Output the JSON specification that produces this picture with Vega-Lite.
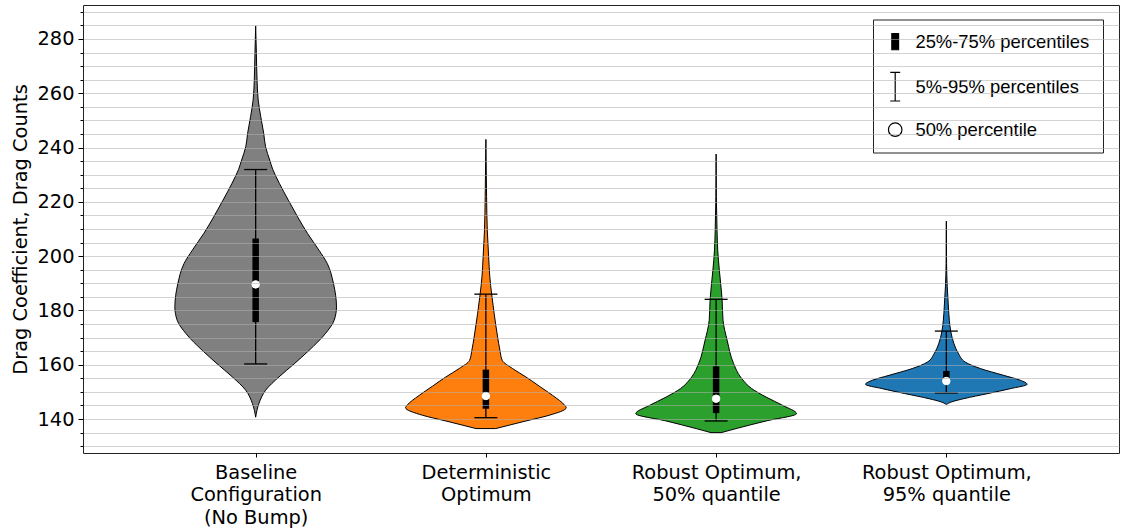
{
  "$schema": "https://vega.github.io/schema/vega-lite/v6.json",
  "width": 1036,
  "height": 448,
  "autosize": {"type": "none"},
  "padding": {"left": 83, "top": 5, "right": 2, "bottom": 75},
  "background": "white",
  "config": {
    "view": {"stroke": "#222", "strokeWidth": 1},
    "font": "DejaVu Sans",
    "legend": {
      "orient": "none",
      "legendX": 790,
      "legendY": 14.5,
      "padding": 13,
      "rowPadding": 17,
      "symbolSize": 182,
      "symbolStrokeColor": "black",
      "symbolStrokeWidth": 1,
      "symbolOpacity": 1,
      "labelFont": "Liberation Sans",
      "labelFontSize": 18.4,
      "labelColor": "black",
      "labelOffset": 11,
      "labelLimit": 400,
      "strokeColor": "#222",
      "strokeWidth": 1,
      "fillColor": "white",
      "cornerRadius": 0
    }
  },
  "datasets": {
    "violin": [
      {"g": 1, "v": 140.7, "lo": 1.0, "hi": 1.0},
      {"g": 1, "v": 145.7, "lo": 0.986, "hi": 1.014},
      {"g": 1, "v": 150.6, "lo": 0.957, "hi": 1.043},
      {"g": 1, "v": 155.5, "lo": 0.899, "hi": 1.101},
      {"g": 1, "v": 160.4, "lo": 0.832, "hi": 1.168},
      {"g": 1, "v": 165.3, "lo": 0.768, "hi": 1.232},
      {"g": 1, "v": 171.5, "lo": 0.697, "hi": 1.303},
      {"g": 1, "v": 176.4, "lo": 0.659, "hi": 1.341},
      {"g": 1, "v": 181.3, "lo": 0.649, "hi": 1.351},
      {"g": 1, "v": 189.9, "lo": 0.662, "hi": 1.338},
      {"g": 1, "v": 197.3, "lo": 0.689, "hi": 1.311},
      {"g": 1, "v": 202.2, "lo": 0.725, "hi": 1.275},
      {"g": 1, "v": 208.4, "lo": 0.775, "hi": 1.225},
      {"g": 1, "v": 214.5, "lo": 0.818, "hi": 1.182},
      {"g": 1, "v": 220.6, "lo": 0.858, "hi": 1.142},
      {"g": 1, "v": 226.8, "lo": 0.897, "hi": 1.103},
      {"g": 1, "v": 232.0, "lo": 0.926, "hi": 1.074},
      {"g": 1, "v": 235.4, "lo": 0.939, "hi": 1.061},
      {"g": 1, "v": 240.3, "lo": 0.957, "hi": 1.043},
      {"g": 1, "v": 245.2, "lo": 0.965, "hi": 1.035},
      {"g": 1, "v": 251.4, "lo": 0.978, "hi": 1.022},
      {"g": 1, "v": 257.5, "lo": 0.989, "hi": 1.011},
      {"g": 1, "v": 264.9, "lo": 0.994, "hi": 1.006},
      {"g": 1, "v": 275.1, "lo": 0.997, "hi": 1.003},
      {"g": 1, "v": 284.8, "lo": 1.0, "hi": 1.0},
      {"g": 2, "v": 136.5, "lo": 1.957, "hi": 2.043},
      {"g": 2, "v": 139.3, "lo": 1.826, "hi": 2.174},
      {"g": 2, "v": 141.4, "lo": 1.725, "hi": 2.275},
      {"g": 2, "v": 144.2, "lo": 1.651, "hi": 2.349},
      {"g": 2, "v": 145.0, "lo": 1.657, "hi": 2.343},
      {"g": 2, "v": 148.7, "lo": 1.71, "hi": 2.29},
      {"g": 2, "v": 152.1, "lo": 1.768, "hi": 2.232},
      {"g": 2, "v": 155.5, "lo": 1.826, "hi": 2.174},
      {"g": 2, "v": 158.6, "lo": 1.884, "hi": 2.116},
      {"g": 2, "v": 161.6, "lo": 1.929, "hi": 2.071},
      {"g": 2, "v": 165.3, "lo": 1.939, "hi": 2.061},
      {"g": 2, "v": 170.2, "lo": 1.949, "hi": 2.051},
      {"g": 2, "v": 178.8, "lo": 1.964, "hi": 2.036},
      {"g": 2, "v": 186.0, "lo": 1.975, "hi": 2.025},
      {"g": 2, "v": 192.4, "lo": 1.983, "hi": 2.017},
      {"g": 2, "v": 199.7, "lo": 1.988, "hi": 2.012},
      {"g": 2, "v": 209.6, "lo": 1.994, "hi": 2.006},
      {"g": 2, "v": 221.9, "lo": 1.997, "hi": 2.003},
      {"g": 2, "v": 243.0, "lo": 2.0, "hi": 2.0},
      {"g": 3, "v": 135.0, "lo": 2.978, "hi": 3.022},
      {"g": 3, "v": 136.5, "lo": 2.913, "hi": 3.087},
      {"g": 3, "v": 139.3, "lo": 2.783, "hi": 3.217},
      {"g": 3, "v": 142.0, "lo": 2.651, "hi": 3.349},
      {"g": 3, "v": 145.0, "lo": 2.71, "hi": 3.29},
      {"g": 3, "v": 148.1, "lo": 2.783, "hi": 3.217},
      {"g": 3, "v": 151.2, "lo": 2.845, "hi": 3.155},
      {"g": 3, "v": 155.5, "lo": 2.894, "hi": 3.106},
      {"g": 3, "v": 160.4, "lo": 2.924, "hi": 3.076},
      {"g": 3, "v": 169.0, "lo": 2.952, "hi": 3.048},
      {"g": 3, "v": 176.4, "lo": 2.97, "hi": 3.03},
      {"g": 3, "v": 184.1, "lo": 2.974, "hi": 3.026},
      {"g": 3, "v": 194.8, "lo": 2.986, "hi": 3.014},
      {"g": 3, "v": 202.2, "lo": 2.993, "hi": 3.007},
      {"g": 3, "v": 209.6, "lo": 2.996, "hi": 3.004},
      {"g": 3, "v": 221.9, "lo": 2.999, "hi": 3.001},
      {"g": 3, "v": 237.6, "lo": 3.0, "hi": 3.0},
      {"g": 4, "v": 145.4, "lo": 4.0, "hi": 4.0},
      {"g": 4, "v": 146.3, "lo": 3.978, "hi": 4.022},
      {"g": 4, "v": 147.5, "lo": 3.925, "hi": 4.075},
      {"g": 4, "v": 149.4, "lo": 3.819, "hi": 4.181},
      {"g": 4, "v": 151.2, "lo": 3.722, "hi": 4.278},
      {"g": 4, "v": 152.8, "lo": 3.649, "hi": 4.351},
      {"g": 4, "v": 154.3, "lo": 3.679, "hi": 4.321},
      {"g": 4, "v": 156.1, "lo": 3.751, "hi": 4.249},
      {"g": 4, "v": 158.6, "lo": 3.852, "hi": 4.148},
      {"g": 4, "v": 161.0, "lo": 3.918, "hi": 4.082},
      {"g": 4, "v": 164.1, "lo": 3.947, "hi": 4.053},
      {"g": 4, "v": 167.8, "lo": 3.967, "hi": 4.033},
      {"g": 4, "v": 172.4, "lo": 3.981, "hi": 4.019},
      {"g": 4, "v": 176.4, "lo": 3.987, "hi": 4.013},
      {"g": 4, "v": 181.3, "lo": 3.991, "hi": 4.009},
      {"g": 4, "v": 188.7, "lo": 3.996, "hi": 4.004},
      {"g": 4, "v": 197.3, "lo": 3.999, "hi": 4.001},
      {"g": 4, "v": 212.9, "lo": 4.0, "hi": 4.0}
    ],
    "stats": [
      {"g": 1, "p5": 160.3, "p25": 175.7, "p50": 189.6, "p75": 206.5, "p95": 231.9},
      {"g": 2, "p5": 140.5, "p25": 143.8, "p50": 148.5, "p75": 158.2, "p95": 186.0},
      {"g": 3, "p5": 139.3, "p25": 142.2, "p50": 147.5, "p75": 159.4, "p95": 184.1},
      {"g": 4, "p5": 149.6, "p25": 153.0, "p50": 154.0, "p75": 157.7, "p95": 172.4}
    ]
  },
  "layer": [
    {
      "data": {"name": "violin"},
      "mark": {"type": "area", "orient": "horizontal", "interpolate": "monotone", "stroke": "black", "strokeWidth": 1, "fillOpacity": 1},
      "encoding": {
        "y": {
          "field": "v",
          "type": "quantitative",
          "scale": {"domain": [127.5, 292.5], "nice": false, "zero": false},
          "axis": {
            "title": "Drag Coefficient, Drag Counts",
            "values": [130, 135, 140, 145, 150, 155, 160, 165, 170, 175, 180, 185, 190, 195, 200, 205, 210, 215, 220, 225, 230, 235, 240, 245, 250, 255, 260, 265, 270, 275, 280, 285, 290],
            "tickCount": 60,
            "labelExpr": "datum.value % 20 === 0 ? datum.label : ''",
            "tickSize": {"condition": {"test": "datum.value % 20 === 0", "value": 5}, "value": 3},
            "tickColor": "black",
            "tickWidth": 1,
            "grid": true,
            "gridColor": "#b0b0b0",
            "gridOpacity": 0.7,
            "gridWidth": 0.8,
            "zindex": 1,
            "domain": false,
            "labelFontSize": 19.4,
            "labelColor": "black",
            "labelPadding": 4,
            "labelOverlap": false,
            "labelFlush": false,
            "titleFontSize": 19.4,
            "titleFontWeight": "normal",
            "titleColor": "black",
            "titlePadding": 6
          }
        },
        "x": {
          "field": "lo",
          "type": "quantitative",
          "scale": {"domain": [0.25, 4.75], "nice": false, "zero": false},
          "axis": {
            "title": null,
            "values": [1, 2, 3, 4],
            "grid": false,
            "domain": false,
            "tickSize": 4,
            "tickColor": "black",
            "labelExpr": "datum.value === 1 ? ['Baseline', 'Configuration', '(No Bump)'] : datum.value === 2 ? ['Deterministic', 'Optimum'] : datum.value === 3 ? ['Robust Optimum,', '50% quantile'] : ['Robust Optimum,', '95% quantile']",
            "labelFontSize": 19.4,
            "labelLineHeight": 22.3,
            "labelPadding": 6.5,
            "labelColor": "black",
            "labelOverlap": false,
            "labelFlush": false,
            "labelBaseline": "top"
          }
        },
        "x2": {"field": "hi"},
        "color": {
          "field": "g",
          "type": "nominal",
          "scale": {"domain": [1, 2, 3, 4], "range": ["#808080", "#ff7f0e", "#2ca02c", "#1f77b4"]},
          "legend": null
        }
      }
    },
    {
      "data": {"name": "stats"},
      "mark": {"type": "rule", "color": "black", "strokeWidth": 1.3},
      "encoding": {
        "x": {"field": "g", "type": "quantitative"},
        "y": {"field": "p5", "type": "quantitative"},
        "y2": {"field": "p95"}
      }
    },
    {
      "data": {"name": "stats"},
      "mark": {"type": "tick", "orient": "horizontal", "color": "black", "size": 23, "thickness": 1.3, "opacity": 1},
      "encoding": {
        "x": {"field": "g", "type": "quantitative"},
        "y": {"field": "p5", "type": "quantitative"}
      }
    },
    {
      "data": {"name": "stats"},
      "mark": {"type": "tick", "orient": "horizontal", "color": "black", "size": 23, "thickness": 1.3, "opacity": 1},
      "encoding": {
        "x": {"field": "g", "type": "quantitative"},
        "y": {"field": "p95", "type": "quantitative"}
      }
    },
    {
      "data": {"name": "stats"},
      "mark": {"type": "rule", "color": "black", "strokeWidth": 6.5},
      "encoding": {
        "x": {"field": "g", "type": "quantitative"},
        "y": {"field": "p25", "type": "quantitative"},
        "y2": {"field": "p75"}
      }
    },
    {
      "data": {"name": "stats"},
      "mark": {"type": "point", "filled": true, "size": 56, "stroke": "white", "strokeWidth": 1, "opacity": 1},
      "encoding": {
        "x": {"field": "g", "type": "quantitative"},
        "y": {"field": "p50", "type": "quantitative"},
        "fill": {
          "datum": "50% percentile",
          "type": "nominal",
          "scale": {"domain": ["25%-75% percentiles", "5%-95% percentiles", "50% percentile"], "range": ["black", "transparent", "white"]},
          "legend": {"title": null, "encode": {"symbols": {"update": {"stroke": {"value": "black"}, "strokeWidth": {"value": 1.2}}}}}
        },
        "shape": {
          "datum": "50% percentile",
          "type": "nominal",
          "scale": {"domain": ["25%-75% percentiles", "5%-95% percentiles", "50% percentile"], "range": ["M-0.5,-1.19H0.5V1.19H-0.5Z", "M-0.74,-2.12H0.74M0,-2.12V2.12M-0.74,2.12H0.74", "circle"]},
          "legend": {"title": null, "encode": {"symbols": {"update": {"stroke": {"value": "black"}, "strokeWidth": {"value": 1.2}}}}}
        }
      }
    }
  ]
}
